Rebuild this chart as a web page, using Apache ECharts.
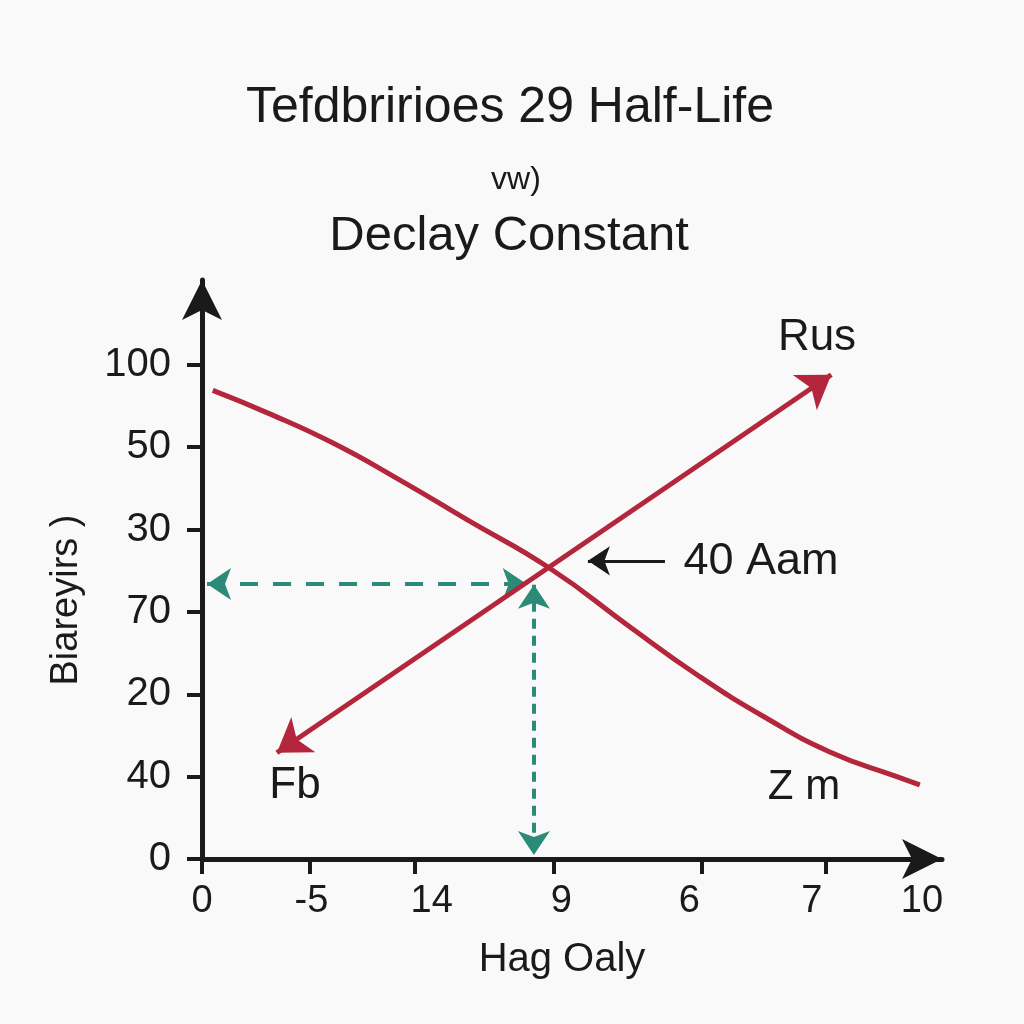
<!DOCTYPE html>
<html>
<head>
<meta charset="utf-8">
<script src="https://cdn.jsdelivr.net/npm/echarts@6/dist/echarts.min.js"></script>
<style>html,body{margin:0;padding:0;background:#f9f9f9;}#chart{width:1024px;height:1024px;}</style>
</head>
<body>
<div id="chart"></div>
<script>
// ---- data ----
var xTickPos = [0, 1.49, 2.96, 4.89, 6.94, 8.67];
var xLabelPos = [0, 1.52, 3.19, 4.99, 6.77, 8.47, 10];
var xLabels = ['0', '-5', '14', '9', '6', '7', '10'];
var yTickPos = [0, 1, 2, 3, 4, 5, 6];
var yLabels = ['0', '40', '20', '70', '30', '50', '100'];
var decayCurve = [[0.15,5.69],[0.9,5.42],[1.82,5.05],[2.75,4.60],[3.68,4.12],[4.83,3.53],[5.94,2.82],[6.87,2.24],[7.8,1.73],[8.72,1.30],[9.65,1.00],[9.97,0.90]];
var riseArrow = [[1.04,1.29],[8.74,5.88]];
var guideH = [[0.07,3.34],[4.51,3.34]];
var guideV = [[4.61,3.33],[4.61,0.05]];
var pointer = [[6.43,3.62],[5.36,3.62]];
var titleLines = ['Tefdbririoes 29 Half-Life', 'vw)', 'Declay Constant'];
var xName = 'Hag Oaly';
var yName = 'Biareyirs )';
var notes = ['Rus', '40 Aam', 'Fb', 'Z m'];

var FONT = '"Liberation Sans", Arial, sans-serif';
var INK = '#1a1a1a';
var RED = '#b3263b';
var GREEN = '#2b8b78';

function lookup(pos, labels, v) {
  for (var i = 0; i < pos.length; i++) if (Math.abs(pos[i] - v) < 1e-6) return labels[i];
  return '';
}

var chart = echarts.init(document.getElementById('chart'), null, {renderer: 'canvas'});
var option = {
  backgroundColor: '#f9f9f9',
  animation: false,
  grid: {left: 202, right: 82, top: 280, bottom: 165, containLabel: false},
  xAxis: {
    type: 'value', min: 0, max: 10.278,
    axisLine: {show: true, onZero: false, lineStyle: {color: INK, width: 5}, symbol: ['none', 'arrow'], symbolSize: [30, 40]},
    axisTick: {show: true, length: 15, lineStyle: {color: INK, width: 4}, customValues: xTickPos},
    axisLabel: {customValues: xLabelPos, margin: 24, fontSize: 38, color: INK, fontFamily: FONT,
      formatter: function (v) { return lookup(xLabelPos, xLabels, v); }},
    splitLine: {show: false}
  },
  yAxis: {
    type: 'value', min: 0, max: 7.03,
    axisLine: {show: true, onZero: false, lineStyle: {color: INK, width: 5}, symbol: ['none', 'arrow'], symbolSize: [30, 40]},
    axisTick: {show: true, length: 15, lineStyle: {color: INK, width: 4}, customValues: yTickPos},
    axisLabel: {customValues: yTickPos, margin: 31, fontSize: 40, color: INK, fontFamily: FONT,
      formatter: function (v) { return lookup(yTickPos, yLabels, v); }},
    splitLine: {show: false}
  },
  series: [
    {type: 'line', data: decayCurve, smooth: 0.5, showSymbol: false, symbol: 'none',
      lineStyle: {color: RED, width: 5}, z: 3},
    {type: 'lines', coordinateSystem: 'cartesian2d', z: 4,
      symbol: ['arrow', 'arrow'], symbolSize: 32,
      lineStyle: {color: RED, width: 5, opacity: 1},
      data: [{coords: riseArrow}]},
    {type: 'lines', coordinateSystem: 'cartesian2d', z: 2,
      symbol: ['arrow', 'arrow'], symbolSize: 24,
      lineStyle: {color: GREEN, width: 4, type: [18, 15], opacity: 1},
      data: [{coords: guideH}]},
    {type: 'lines', coordinateSystem: 'cartesian2d', z: 2,
      symbol: ['arrow', 'arrow'], symbolSize: 24,
      lineStyle: {color: GREEN, width: 4, type: [10, 7], opacity: 1},
      data: [{coords: guideV}]},
    {type: 'lines', coordinateSystem: 'cartesian2d', z: 2,
      symbol: ['none', 'arrow'], symbolSize: 22,
      lineStyle: {color: INK, width: 3, opacity: 1},
      data: [{coords: pointer}]}
  ],
  graphic: [
    {type: 'text', x: 510, y: 108, style: {text: titleLines[0], fontSize: 50, fontFamily: FONT, fill: INK, align: 'center', verticalAlign: 'middle'}},
    {type: 'text', x: 516, y: 180, style: {text: titleLines[1], fontSize: 32, fontFamily: FONT, fill: INK, align: 'center', verticalAlign: 'middle'}},
    {type: 'text', x: 509, y: 236, style: {text: titleLines[2], fontSize: 49, fontFamily: FONT, fill: INK, align: 'center', verticalAlign: 'middle'}},
    {type: 'text', x: 562, y: 960, style: {text: xName, fontSize: 40, fontFamily: FONT, fill: INK, align: 'center', verticalAlign: 'middle'}},
    {type: 'text', x: 67, y: 600, rotation: Math.PI / 2, style: {text: yName, fontSize: 38, fontFamily: FONT, fill: INK, align: 'center', verticalAlign: 'middle'}},
    {type: 'text', x: 817, y: 338, style: {text: notes[0], fontSize: 44, fontFamily: FONT, fill: INK, align: 'center', verticalAlign: 'middle'}},
    {type: 'text', x: 761, y: 562, style: {text: notes[1], fontSize: 45, fontFamily: FONT, fill: INK, align: 'center', verticalAlign: 'middle'}},
    {type: 'text', x: 295, y: 786, style: {text: notes[2], fontSize: 44, fontFamily: FONT, fill: INK, align: 'center', verticalAlign: 'middle'}},
    {type: 'text', x: 804, y: 787, style: {text: notes[3], fontSize: 42, fontFamily: FONT, fill: INK, align: 'center', verticalAlign: 'middle'}}
  ]
};
chart.setOption(option);
</script>
</body>
</html>
